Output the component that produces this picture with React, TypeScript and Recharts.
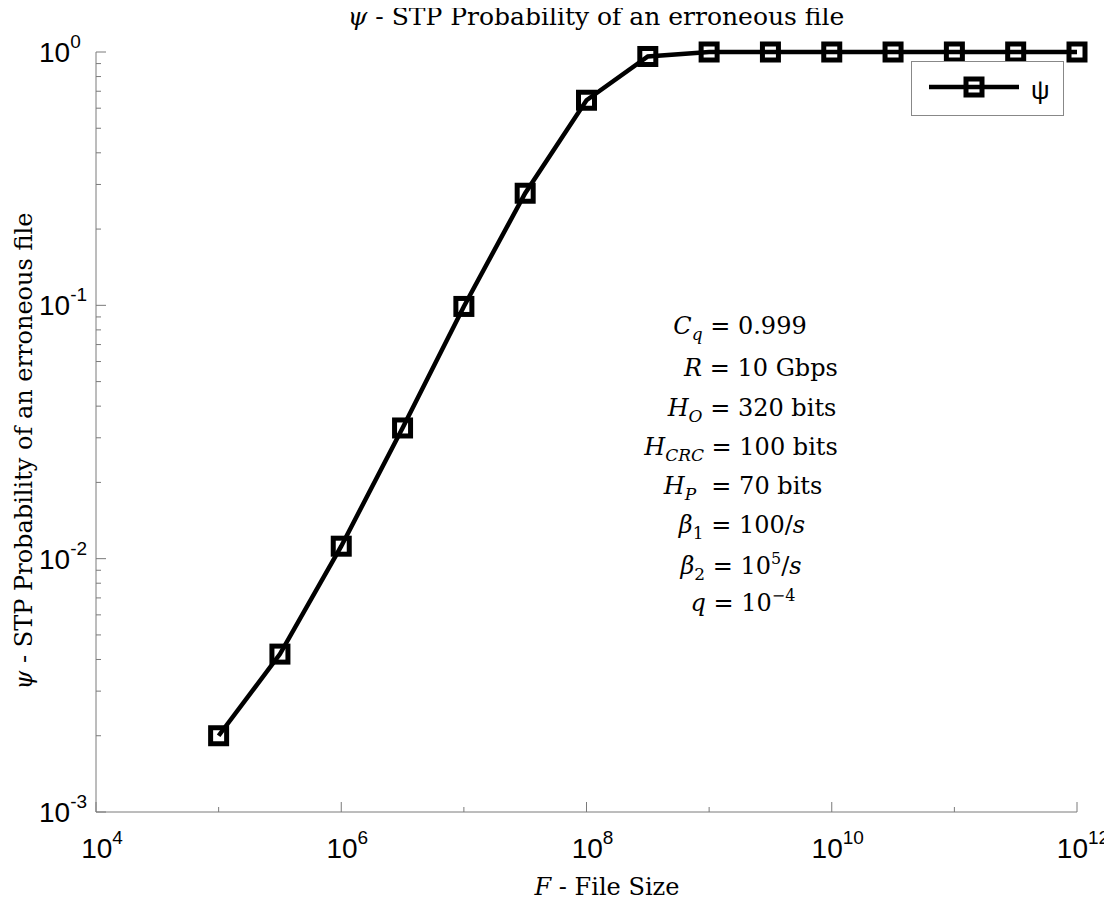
import React from 'react';
import { LineChart, Line, XAxis, YAxis } from 'recharts';

// file size F (bits), half-decade steps
const fileSizes = [1e5, 3.162e5, 1e6, 3.162e6, 1e7, 3.162e7, 1e8, 3.162e8, 1e9, 3.162e9, 1e10, 3.162e10, 1e11, 3.162e11, 1e12];
// psi - STP probability of an erroneous file
const psiValues = [0.002, 0.0042, 0.0112, 0.0328, 0.099, 0.277, 0.645, 0.96, 1, 1, 1, 1, 1, 1, 1];

const xMajorTicks = [1e4, 1e6, 1e8, 1e10, 1e12];
const xMajorLabels = ['4', '6', '8', '10', '12'];
const xMinorTicks = [1e5, 1e7, 1e9, 1e11];

const yMajorTicks = [1e-3, 1e-2, 1e-1, 1];
const yMajorLabels = ['-3', '-2', '-1', '0'];
const yMinorTicks = [
  0.002, 0.003, 0.004, 0.005, 0.006, 0.007, 0.008, 0.009,
  0.02, 0.03, 0.04, 0.05, 0.06, 0.07, 0.08, 0.09,
  0.2, 0.3, 0.4, 0.5, 0.6, 0.7, 0.8, 0.9,
];

const data = fileSizes.map((f, i) => ({ f, psi: psiValues[i] }));

const W = 1104;
const H = 888;
const PLOT = { left: 88, right: 1069, top: 44, bottom: 804 };
const AXIS = '#7a7a7a';
const SANS = '"Liberation Sans", Arial, sans-serif';
const SERIF = '"DejaVu Serif", serif';

const SquareDot: React.FC<any> = ({ cx, cy }) => {
  if (cx == null || cy == null) return null;
  return <rect x={cx - 8} y={cy - 8} width={16} height={16} fill="none" stroke="#000" strokeWidth={5} />;
};

const tickLen = (major: boolean) => (major ? 10 : 5);

const BottomTick: React.FC<any> = ({ x, payload }) => {
  const i = xMajorTicks.indexOf(payload.value);
  const major = i >= 0;
  return (
    <g>
      <line x1={x} x2={x} y1={PLOT.bottom} y2={PLOT.bottom - tickLen(major)} stroke={AXIS} />
      {major && (
        <text x={x + 6} y={PLOT.bottom + 46} textAnchor="middle" fontFamily={SANS} fontSize={28} fill="#000">
          <tspan>10</tspan>
          <tspan fontSize={19} dy={-14}>{xMajorLabels[i]}</tspan>
        </text>
      )}
    </g>
  );
};

const TopTick: React.FC<any> = ({ x, payload }) => {
  const major = xMajorTicks.includes(payload.value);
  return <line x1={x} x2={x} y1={PLOT.top} y2={PLOT.top + tickLen(major)} stroke={AXIS} />;
};

const LeftTick: React.FC<any> = ({ y, payload }) => {
  const i = yMajorTicks.indexOf(payload.value);
  const major = i >= 0;
  return (
    <g>
      <line x1={PLOT.left} x2={PLOT.left + tickLen(major)} y1={y} y2={y} stroke={AXIS} />
      {major && (
        <text x={PLOT.left - 57} y={y + 10} fontFamily={SANS} fontSize={28} fill="#000">
          <tspan>10</tspan>
          <tspan fontSize={19} dy={-14}>{yMajorLabels[i]}</tspan>
        </text>
      )}
    </g>
  );
};

const RightTick: React.FC<any> = ({ y, payload }) => {
  const major = yMajorTicks.includes(payload.value);
  return <line x1={PLOT.right} x2={PLOT.right - tickLen(major)} y1={y} y2={y} stroke={AXIS} />;
};

const xTicks = [...xMajorTicks, ...xMinorTicks].sort((a, b) => a - b);
const yTicks = [...yMajorTicks, ...yMinorTicks].sort((a, b) => a - b);

const Sub: React.FC<{ children: React.ReactNode; italic?: boolean }> = ({ children, italic = true }) => (
  <tspan fontSize={17} dy={6} fontStyle={italic ? 'italic' : 'normal'}>{children}</tspan>
);

const App: React.FC = () => {
  return (
    <div style={{ position: 'relative', width: W, height: H }}>
      <LineChart width={W} height={H} data={data} margin={{ top: PLOT.top, right: W - PLOT.right, left: 0, bottom: 0 }}>
        <XAxis
          xAxisId="bottom"
          dataKey="f"
          type="number"
          scale="log"
          domain={[1e4, 1e12]}
          ticks={xTicks}
          interval={0}
          height={H - PLOT.bottom}
          tickLine={false}
          axisLine={{ stroke: AXIS }}
          tick={(p: any) => <BottomTick {...p} />}
        />
        <XAxis
          xAxisId="top"
          orientation="top"
          dataKey="f"
          type="number"
          scale="log"
          domain={[1e4, 1e12]}
          ticks={xTicks}
          interval={0}
          height={0}
          tickLine={false}
          axisLine={{ stroke: AXIS }}
          tick={(p: any) => <TopTick {...p} />}
        />
        <YAxis
          yAxisId="left"
          type="number"
          scale="log"
          domain={[1e-3, 1]}
          ticks={yTicks}
          interval={0}
          width={PLOT.left}
          tickLine={false}
          axisLine={{ stroke: AXIS }}
          tick={(p: any) => <LeftTick {...p} />}
        />
        <YAxis
          yAxisId="right"
          orientation="right"
          type="number"
          scale="log"
          domain={[1e-3, 1]}
          ticks={yTicks}
          interval={0}
          width={0}
          tickLine={false}
          axisLine={{ stroke: AXIS }}
          tick={(p: any) => <RightTick {...p} />}
        />
        <Line
          xAxisId="bottom"
          yAxisId="left"
          type="linear"
          dataKey="psi"
          stroke="#000"
          strokeWidth={4.5}
          dot={<SquareDot />}
          activeDot={false}
          isAnimationActive={false}
        />
      </LineChart>

      <svg width={1112} height={904} style={{ position: 'absolute', left: -8, top: -8, pointerEvents: 'none' }}>
        <g transform="translate(8,8)">
          {/* title */}
          <text x={588} y={17} textAnchor="middle" fontFamily={SERIF} fontSize={25}>
            <tspan fontStyle="italic">ψ</tspan> - STP Probability of an erroneous file
          </text>
          {/* y label */}
          <text transform="translate(24,443) rotate(-90)" textAnchor="middle" fontFamily={SERIF} fontSize={24}>
            <tspan fontStyle="italic">ψ</tspan> - STP Probability of an erroneous file
          </text>
          {/* x label */}
          <text x={599} y={887} textAnchor="middle" fontFamily={SERIF} fontSize={24}>
            <tspan fontStyle="italic">F</tspan> - File Size
          </text>

          {/* legend */}
          <g transform="translate(903,53)">
            <rect x={0.5} y={0.5} width={152} height={54} fill="#fff" stroke="#888" />
            <line x1={18} x2={108} y1={26} y2={26} stroke="#000" strokeWidth={4.5} />
            <rect x={55} y={18} width={16} height={16} fill="none" stroke="#000" strokeWidth={5} />
            <text x={120} y={38} fontFamily={SANS} fontSize={26}>ψ</text>
          </g>

          {/* parameters */}
          <g fontFamily={SERIF} fontSize={24} textAnchor="middle">
            <text x={732} y={326}>
              <tspan fontStyle="italic">C</tspan><Sub>q</Sub><tspan dy={-6}> = 0.999</tspan>
            </text>
            <text x={753} y={368}>
              <tspan fontStyle="italic">R</tspan> = 10 Gbps
            </text>
            <text x={744} y={408}>
              <tspan fontStyle="italic">H</tspan><Sub>O</Sub><tspan dy={-6}> = 320 bits</tspan>
            </text>
            <text x={733} y={447}>
              <tspan fontStyle="italic">H</tspan><Sub>CRC</Sub><tspan dy={-6}> = 100 bits</tspan>
            </text>
            <text x={735} y={486}>
              <tspan fontStyle="italic">H</tspan><Sub>P</Sub><tspan dy={-6} xmlSpace="preserve">  = 70 bits</tspan>
            </text>
            <text x={734} y={525}>
              <tspan fontStyle="italic">β</tspan><Sub italic={false}>1</Sub><tspan dy={-6}> = 100/</tspan><tspan fontStyle="italic">s</tspan>
            </text>
            <text x={733} y={566}>
              <tspan fontStyle="italic">β</tspan><Sub italic={false}>2</Sub><tspan dy={-6}> = 10</tspan>
              <tspan fontSize={16} dy={-10}>5</tspan><tspan dy={10}>/</tspan><tspan fontStyle="italic">s</tspan>
            </text>
            <text x={735} y={603}>
              <tspan fontStyle="italic">q</tspan> = 10<tspan fontSize={16} dy={-10}>−4</tspan>
            </text>
          </g>
        </g>
      </svg>
    </div>
  );
};

export default App;
